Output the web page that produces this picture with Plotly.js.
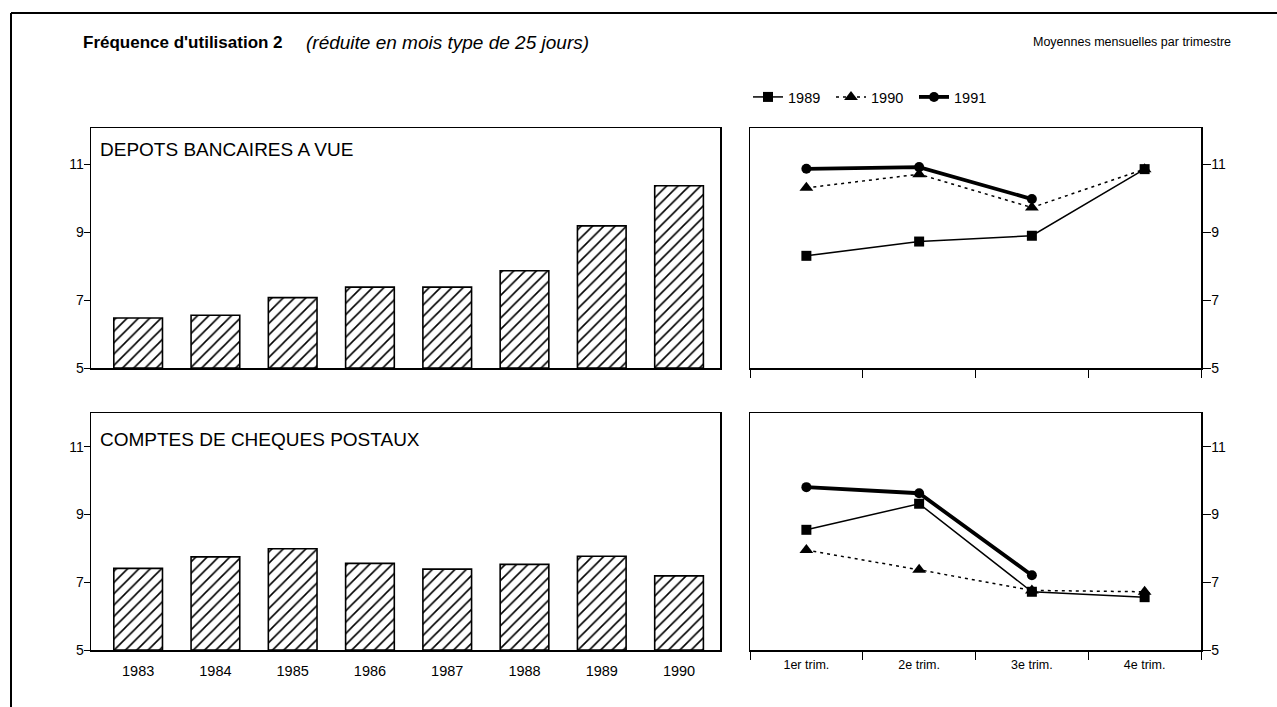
<!DOCTYPE html>
<html>
<head>
<meta charset="utf-8">
<script src="https://cdn.plot.ly/plotly-3.0.1.min.js"></script>
<style>html,body{margin:0;padding:0;background:#fff;}#chart{width:1277px;height:707px;}</style>
</head>
<body>
<div id="chart"></div>
<script>
// ---- data ----
const years = ['1983','1984','1985','1986','1987','1988','1989','1990'];
const depotsAnnuel = [6.47, 6.55, 7.07, 7.38, 7.38, 7.86, 9.18, 10.36];
const ccpAnnuel = [7.41, 7.75, 7.99, 7.56, 7.39, 7.53, 7.77, 7.19];
const quarters = ['1er trim.','2e trim.','3e trim.','4e trim.'];
const depots1989 = [8.30, 8.72, 8.89, 10.85];
const depots1990 = [10.30, 10.70, 9.72, 10.85];
const depots1991 = [10.86, 10.91, 9.97, null];
const ccp1989 = [8.55, 9.32, 6.72, 6.56];
const ccp1990 = [7.95, 7.37, 6.76, 6.72];
const ccp1991 = [9.81, 9.63, 7.21, null];
const seriesNames = ['1989','1990','1991'];
const yTicks = [5, 7, 9, 11];

const FONT = 'Liberation Sans, Arial, Helvetica, sans-serif';
const W = 1277, H = 707;
const px = v => v / W;
const py = v => 1 - v / H;

function barTrace(vals, xa, ya) {
  return {
    type: 'bar', x: years, y: vals, xaxis: xa, yaxis: ya, width: 0.63,
    base: 5, showlegend: false, hoverinfo: 'x+y',
    marker: {
      color: 'white',
      line: {color: 'black', width: 1.6},
      pattern: {shape: '/', fgcolor: 'black', bgcolor: 'white', size: 8, solidity: 0.2}
    }
  };
}
// bars drawn from base 5: y values are heights above 5
const dep = depotsAnnuel.map(v => v - 5);
const ccp = ccpAnnuel.map(v => v - 5);

const styles = [
  {line: {color: 'black', width: 1.5}, marker: {symbol: 'square', size: 10, color: 'black'}},
  {line: {color: 'black', width: 1.5, dash: '3px,4px'}, marker: {symbol: 'triangle-up', size: 12, color: 'black'}},
  {line: {color: 'black', width: 3.8}, marker: {symbol: 'circle', size: 10, color: 'black'}}
];
function lineTrace(vals, i, xa, ya, legend) {
  return {
    type: 'scatter', mode: 'lines+markers', x: quarters, y: vals, xaxis: xa, yaxis: ya,
    name: seriesNames[i], showlegend: legend, connectgaps: false,
    line: styles[i].line, marker: styles[i].marker
  };
}

const traces = [
  barTrace(dep, 'x', 'y'),
  barTrace(ccp, 'x3', 'y3'),
  lineTrace(depots1989, 0, 'x2', 'y2', true),
  lineTrace(depots1990, 1, 'x2', 'y2', true),
  lineTrace(depots1991, 2, 'x2', 'y2', true),
  lineTrace(ccp1989, 0, 'x4', 'y4', false),
  lineTrace(ccp1990, 1, 'x4', 'y4', false),
  lineTrace(ccp1991, 2, 'x4', 'y4', false)
];

const leftDom = [px(91), px(720)];
const rightDom = [px(750), px(1201)];
const topDom = [py(368), py(128)];
const botDom = [py(650), py(413)];
const tickFont = {family: FONT, size: 14, color: 'black'};

function xLeft(dom, anchor, labels) {
  return {domain: dom, anchor: anchor, type: 'category', range: [-0.61, 7.53],
    showline: true, mirror: true, linecolor: 'black', linewidth: 1.5,
    ticks: '', showticklabels: labels, tickfont: {family: FONT, size: 14.5, color: 'black'}, ticklabelstandoff: 7,
    showgrid: false, zeroline: false, fixedrange: true};
}
function yLeft(dom, anchor, top) {
  return {domain: dom, anchor: anchor, range: [5, top], tickvals: yTicks,
    showline: true, mirror: true, linecolor: 'black', linewidth: 1.5,
    ticks: 'outside', ticklen: 6, tickcolor: 'black', tickwidth: 1,
    ticklabelstandoff: -3,
    tickfont: tickFont, showgrid: false, zeroline: false, fixedrange: true};
}
function xRight(dom, anchor, labels) {
  return {domain: dom, anchor: anchor, type: 'category', range: [-0.5, 3.5],
    showline: true, mirror: true, linecolor: 'black', linewidth: 1.5,
    ticks: 'outside', tickson: 'boundaries', ticklen: 8, tickcolor: 'black', tickwidth: 1,
    showticklabels: labels, tickfont: {family: FONT, size: 12.5, color: 'black'}, ticklabelstandoff: 2,
    showgrid: false, zeroline: false, fixedrange: true};
}
function yRight(dom, anchor, top) {
  return {domain: dom, anchor: anchor, side: 'right', range: [5, top], tickvals: yTicks,
    showline: true, mirror: true, linecolor: 'black', linewidth: 1.5,
    ticks: 'outside', ticklen: 8, tickcolor: 'black', tickwidth: 1,
    ticklabelstandoff: -2,
    tickfont: tickFont, showgrid: false, zeroline: false, fixedrange: true};
}

const layout = {
  width: W, height: H,
  margin: {l: 0, r: 0, t: 0, b: 0},
  paper_bgcolor: 'white', plot_bgcolor: 'white',
  font: {family: FONT, color: 'black', size: 13},
  xaxis: xLeft(leftDom, 'y', false),
  yaxis: yLeft(topDom, 'x', 12.06),
  xaxis2: xRight(rightDom, 'y2', false),
  yaxis2: yRight(topDom, 'x2', 12.06),
  xaxis3: xLeft(leftDom, 'y3', true),
  yaxis3: yLeft(botDom, 'x3', 12.0),
  xaxis4: xRight(rightDom, 'y4', true),
  yaxis4: yRight(botDom, 'x4', 12.0),
  showlegend: true,
  legend: {orientation: 'h', x: px(748), y: py(97), xanchor: 'left', yanchor: 'middle',
    font: {family: FONT, size: 14.5, color: 'black'}, bgcolor: 'rgba(0,0,0,0)',
    itemwidth: 30, tracegroupgap: 0, entrywidth: 38},
  shapes: [
    {type: 'line', xref: 'paper', yref: 'paper', x0: px(11), x1: 1, y0: py(13), y1: py(13), line: {color: 'black', width: 2}},
    {type: 'line', xref: 'paper', yref: 'paper', x0: px(11), x1: px(11), y0: py(13), y1: 0, line: {color: 'black', width: 2}}
  ],
  annotations: [
    {xref: 'paper', yref: 'paper', x: px(81), y: py(42), xanchor: 'left', yanchor: 'middle', showarrow: false,
     text: "<b>Fréquence d'utilisation 2</b>", font: {family: FONT, size: 17, color: 'black'}},
    {xref: 'paper', yref: 'paper', x: px(304), y: py(42), xanchor: 'left', yanchor: 'middle', showarrow: false,
     text: "<i>(réduite en mois type de 25 jours)</i>", font: {family: FONT, size: 19, color: 'black'}},
    {xref: 'paper', yref: 'paper', x: px(1233), y: py(42), xanchor: 'right', yanchor: 'middle', showarrow: false,
     text: "Moyennes mensuelles par trimestre", font: {family: FONT, size: 12.5, color: 'black'}},
    {xref: 'paper', yref: 'paper', x: px(98), y: py(149), xanchor: 'left', yanchor: 'middle', showarrow: false,
     text: "DEPOTS BANCAIRES A VUE", font: {family: FONT, size: 19, color: 'black'}},
    {xref: 'paper', yref: 'paper', x: px(98), y: py(439), xanchor: 'left', yanchor: 'middle', showarrow: false,
     text: "COMPTES DE CHEQUES POSTAUX", font: {family: FONT, size: 19, color: 'black'}}
  ]
};

Plotly.newPlot('chart', traces, layout, {displayModeBar: false, staticPlot: true});
</script>
</body>
</html>
